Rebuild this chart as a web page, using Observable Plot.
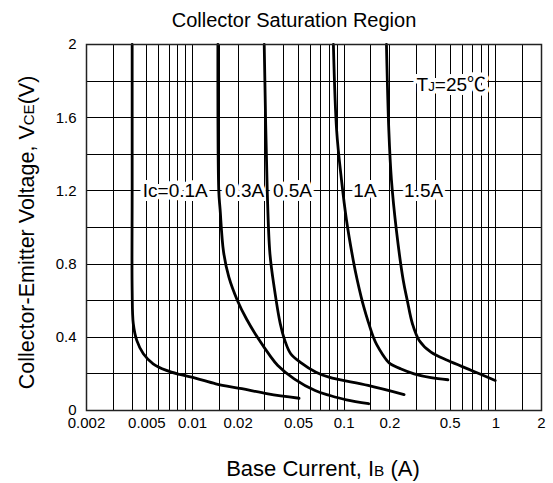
<!DOCTYPE html>
<html><head><meta charset="utf-8">
<script src="https://cdn.jsdelivr.net/npm/d3@7"></script>
<script src="https://cdn.jsdelivr.net/npm/@observablehq/plot@0.6"></script>
<style>body{margin:0;background:#fff}</style>
</head><body><div id="chart"></div>
<script>
// Base current IB (A) and VCE (V), per collector current
const ib_01 = [0.004, 0.004, 0.004, 0.00407, 0.00429, 0.00474, 0.0055, 0.00673, 0.00822, 0.01057, 0.01423, 0.02114, 0.03146, 0.0504];
const vce_01 = [2.0, 1.2, 0.656, 0.474, 0.383, 0.31, 0.255, 0.219, 0.197, 0.176, 0.146, 0.119, 0.091, 0.067];
const ib_03 = [0.0147, 0.0149, 0.0152, 0.016, 0.01735, 0.0198, 0.0227, 0.0268, 0.0324, 0.0365, 0.0468, 0.0643, 0.0807, 0.1035, 0.145];
const vce_03 = [2.0, 1.2, 1.1, 0.87, 0.73, 0.6, 0.5, 0.4, 0.3, 0.246, 0.173, 0.109, 0.082, 0.058, 0.037];
const ib_05 = [0.0297, 0.0311, 0.0324, 0.0346, 0.0379, 0.0406, 0.0444, 0.0512, 0.0652, 0.0794, 0.1436, 0.2483];
const vce_05 = [2.0, 1.2, 0.856, 0.67, 0.474, 0.383, 0.31, 0.264, 0.209, 0.182, 0.137, 0.087];
const ib_1 = [0.0849, 0.0892, 0.096, 0.1036, 0.1148, 0.1221, 0.1295, 0.1348, 0.1434, 0.1558, 0.1639, 0.1915, 0.2018, 0.2353, 0.2892, 0.3735, 0.483];
const vce_1 = [2.0, 1.53, 1.26, 1.04, 0.82, 0.71, 0.62, 0.565, 0.49, 0.4, 0.36, 0.273, 0.255, 0.228, 0.2, 0.179, 0.168];
const ib_15 = [0.19, 0.197, 0.2049, 0.2213, 0.2453, 0.2609, 0.2818, 0.3124, 0.3735, 0.483, 0.6913, 0.9908];
const vce_15 = [2.0, 1.53, 1.26, 0.98, 0.71, 0.6, 0.474, 0.383, 0.319, 0.273, 0.219, 0.164];

const seriesNames = ["0.1A", "0.3A", "0.5A", "1A", "1.5A"];

// Curve labels
const labelText = ["Ic=0.1A", "0.3A", "0.5A", "1A", "1.5A"];
const labelIb = [0.0047, 0.0164, 0.0339, 0.1149, 0.2483];
const labelVce = [1.2, 1.2, 1.2, 1.2, 1.2];
const tjText = "TJ=25℃";
const tjIb = [0.3];
const tjVce = [1.78];

// Axes
const xTicks = [0.002, 0.005, 0.01, 0.02, 0.05, 0.1, 0.2, 0.5, 1, 2];
const xGrid = [0.003, 0.004, 0.005, 0.006, 0.007, 0.008, 0.009, 0.01, 0.015, 0.02, 0.03, 0.04, 0.05, 0.06, 0.07, 0.08, 0.09, 0.1, 0.15, 0.2, 0.3, 0.4, 0.5, 0.6, 0.7, 0.8, 0.9, 1, 1.5];
const yTicks = [0, 0.4, 0.8, 1.2, 1.6, 2];
const yGrid = [0.2, 0.4, 0.6, 0.8, 1.0, 1.2, 1.4, 1.6, 1.8];

const title = "Collector Saturation Region";
const xLabel = "Base Current, IB (A)";
const yLabel = "Collector-Emitter Voltage, VCE(V)";

const allIb = [ib_01, ib_03, ib_05, ib_1, ib_15];
const allVce = [vce_01, vce_03, vce_05, vce_1, vce_15];
const curves = seriesNames.flatMap((ic, k) => allIb[k].map((x, i) => ({ic, ib: x, v: allVce[k][i]})));
const labels = labelText.map((t, i) => ({t, ib: labelIb[i], v: labelVce[i]}));
const tj = [{t: tjText, ib: tjIb[0], v: tjVce[0]}];

const chart = Plot.plot({
  width: 553, height: 483,
  marginLeft: 86, marginRight: 12, marginTop: 44, marginBottom: 73,
  style: {fontFamily: '"Liberation Sans", Arial, "Noto Sans CJK SC", sans-serif', fontSize: "14px", background: "white", color: "black"},
  x: {type: "log", domain: [0.002, 2], axis: null},
  y: {domain: [0, 2], axis: null},
  marks: [
    Plot.ruleX(xGrid, {stroke: "black", strokeWidth: 1, shapeRendering: "crispEdges"}),
    Plot.ruleY(yGrid, {stroke: "black", strokeWidth: 1, shapeRendering: "crispEdges"}),
    Plot.text(labels, {x: "ib", y: "v", text: "t", textAnchor: "start", fontSize: 19, fill: "black", stroke: "white", strokeWidth: 8}),
    Plot.text(tj, {x: "ib", y: "v", text: "t", textAnchor: "start", fontSize: 19, fill: "white", stroke: "white", strokeWidth: 8, className: "tjhalo"}),
    Plot.text(tj, {x: "ib", y: "v", text: "t", textAnchor: "start", fontSize: 19, fill: "black", className: "tjlab"}),
    Plot.line(curves, {x: "ib", y: "v", z: "ic", stroke: "black", strokeWidth: 2.8, curve: "catmull-rom"}),
    Plot.frame({stroke: "#222", strokeWidth: 1.5}),
    Plot.text(xTicks, {x: d => d, text: d => String(d), frameAnchor: "bottom", lineAnchor: "top", dy: 7, fontSize: 15}),
    Plot.text(yTicks, {y: d => d, text: d => String(d), frameAnchor: "left", textAnchor: "end", lineAnchor: "middle", dx: -10, fontSize: 15}),
    Plot.text([title], {frameAnchor: "top", lineAnchor: "middle", dy: -24, dx: -20, fontSize: 20}),
    Plot.text([xLabel], {frameAnchor: "bottom", lineAnchor: "middle", dy: 58, dx: 9, fontSize: 22, className: "xlab"}),
    Plot.text([yLabel], {frameAnchor: "left", textAnchor: "middle", lineAnchor: "middle", dx: -59, dy: 5, rotate: -90, fontSize: 21.5, className: "ylab"})
  ]
});

function setParts(cls, parts) {
  d3.select(chart).selectAll("." + cls + " text").each(function() {
    const t = d3.select(this);
    t.text(null);
    for (const [s, small] of parts) t.append("tspan").attr("font-size", small ? "0.7em" : null).text(s);
  });
}
setParts("xlab", [["Base Current, I", 0], ["B", 1], [" (A)", 0]]);
setParts("ylab", [["Collector-Emitter Voltage, V", 0], ["CE", 1], ["(V)", 0]]);
setParts("tjhalo", [["T", 0], ["J", 1], ["=25℃", 0]]);
setParts("tjlab", [["T", 0], ["J", 1], ["=25℃", 0]]);

document.getElementById("chart").append(chart);
</script>
</body></html>
